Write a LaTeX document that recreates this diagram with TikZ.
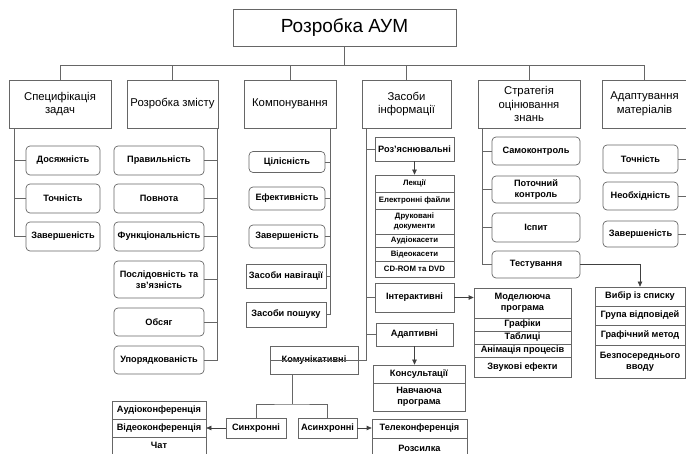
\documentclass[tikz,border=0pt]{standalone}
\usepackage{fontspec}
\setmainfont{Liberation Sans}
\usetikzlibrary{arrows.meta}
\tikzset{
  ln/.style={draw=black!60, line width=0.7pt},
  arr/.style={-{Triangle[length=5pt,width=4.5pt]}, draw=black!75},
  topbox/.style={ln, inner sep=0pt, font=\fontsize{19}{22}\selectfont},
  catbox/.style={ln, inner sep=0pt, align=center, minimum height=48pt,
    font=\fontsize{11.3}{13.8}\selectfont},
  itembox/.style={ln, rounded corners=4pt, inner sep=0pt, align=center,
    font=\bfseries\fontsize{9.2}{11.5}\selectfont},
  sqbox/.style={itembox, sharp corners},
  rowbox/.style={ln, inner sep=0pt, align=center,
    font=\bfseries\fontsize{9.2}{11}\selectfont},
  smallrow/.style={rowbox, font=\bfseries\fontsize{7.8}{9.5}\selectfont}
}

\begin{document}
\begin{tikzpicture}[x=1pt,y=-1pt]
\useasboundingbox (0,0) rectangle (686,454);

% root and first level
\node[topbox, minimum width=223pt, minimum height=37pt] (aum) at (344.5,27.5) {Розробка АУМ};
\coordinate (bus) at (344.5,65);
\foreach \nm/\xc/\w/\txt in {spec/60/102/{Специфікація\\задач},
    zmist/172.5/91/{Розробка змісту}, komp/290/92/{Компонування},
    zasob/406.5/89/{Засоби\\інформації}, strat/529/102/{Стратегія\\оцінювання\\знань},
    adapt/644.5/85/{Адаптування\\матеріалів}} {
  \node[catbox, minimum width=\w pt] (\nm) at (\xc,104) {\txt};
  \draw[ln] (aum.south) -- (bus) -| (\nm.north);
}

% specification of tasks
\coordinate (specS) at ([xshift=6pt]spec.south west);
\foreach \nm/\yc/\txt in {dosyazh/160.5/Досяжність, tochn/198.5/Точність,
    zavS/236.5/Завершеність} {
  \node[itembox, minimum width=74pt, minimum height=29pt] (\nm) at (63,\yc) {\txt};
  \draw[ln] (specS) |- (\nm.west);
}

% content
\coordinate (zmistS) at ([xshift=-1pt]zmist.south east);
\foreach \nm/\yc/\h/\txt in {prav/160.5/29/Правильність, povn/198.5/29/Повнота,
    funk/236.5/29/Функціональність, posl/279.5/37/{Послідовність та\\зв’язність},
    obsyag/322/28/Обсяг, upor/360/28/Упорядкованість} {
  \node[itembox, minimum width=90pt, minimum height=\h pt] (\nm) at (159,\yc) {\txt};
  \draw[ln] (zmistS) |- (\nm.east);
}

% layout
\coordinate (kompS) at ([xshift=-6pt]komp.south east);
\foreach \nm/\yc/\h/\txt in {tsil/162/21/Цілісність, efekt/198.5/23/Ефективність,
    zavK/236.5/23/Завершеність} {
  \node[itembox, minimum width=76pt, minimum height=\h pt] (\nm) at (287,\yc) {\txt};
  \draw[ln] (kompS) |- (\nm.east);
}
\node[sqbox, minimum width=80pt, minimum height=24pt] (navig) at (286,276) {Засоби навігації};
\node[sqbox, minimum width=80pt, minimum height=25pt] (poshuk) at (286,314.5) {Засоби пошуку};
\draw[ln] (kompS) |- (navig.east);
\draw[ln] (kompS) |- (poshuk.east);

% information means
\coordinate (zasobS) at ([xshift=5pt]zasob.south west);
\node[sqbox, minimum width=79pt, minimum height=24pt] (rozyasn) at (414.5,149) {Роз’яснювальні};
\node[sqbox, minimum width=79pt, minimum height=29pt] (inter) at (414.5,297.5) {Інтерактивні};
\node[sqbox, minimum width=77pt, minimum height=23pt] (adaptv) at (414.5,334.5) {Адаптивні};
\node[sqbox, minimum width=88pt, minimum height=28pt] (komun) at (314,360) {Комунікативні};
\foreach \nm in {rozyasn,inter,adaptv,komun}
  \draw[ln] (zasobS) |- (\nm.west |- \nm.east);
\draw[ln] (komun.east) -- (komun.east -| zasobS);

\foreach \nm/\yc/\h/\txt in {lek/183.5/17/Лекції, elf/200.5/17/{Електронні файли},
    druk/221.5/25/{Друковані\\документи}, audio/240.5/13/Аудіокасети,
    video/254/14/Відеокасети, cd/269/16/{CD-ROM та DVD}}
  \node[smallrow, minimum width=79pt, minimum height=\h pt] (\nm) at (414.5,\yc) {\txt};
\draw[ln, arr] (rozyasn.south) -- (lek.north);

\foreach \nm/\yc/\h/\txt in {model/303/30/{Моделююча\\програма}, grafik/324.5/13/Графіки,
    tabl/337.5/13/Таблиці, anim/350.5/13/{Анімація процесів}, zvuk/367/20/{Звукові ефекти}}
  \node[rowbox, minimum width=97pt, minimum height=\h pt] (\nm) at (522.5,\yc) {\txt};
\draw[ln, arr] (inter.east) -- (inter.east -| model.west);

\foreach \nm/\yc/\h/\txt in {kons/374/18/Консультації, navch/397/28/{Навчаюча\\програма}}
  \node[rowbox, minimum width=92pt, minimum height=\h pt] (\nm) at (419,\yc) {\txt};
\draw[ln, arr] (adaptv.south) -- (adaptv.south |- kons.north);

% communicative
\node[sqbox, minimum width=60pt, minimum height=20pt] (synch) at (256,428) {Синхронні};
\node[sqbox, minimum width=59pt, minimum height=20pt] (asynch) at (327.5,428) {Асинхронні};
\coordinate (kfork) at (292,404);
\draw[ln] (komun.south -| kfork) -- (kfork);
\draw[ln] (synch.north) |- (kfork) -| (asynch.north);

\foreach \nm/\yc/\h/\txt in {audk/410/18/Аудіоконференція, vidk/428/18/Відеоконференція,
    chat/445.5/17/Чат}
  \node[rowbox, minimum width=94pt, minimum height=\h pt] (\nm) at (159,\yc) {\txt};
\draw[ln, arr] (synch.west) -- (vidk.east);

\foreach \nm/\yc/\h/\txt in {telek/428.5/19/Телеконференція, rozs/448/20/Розсилка}
  \node[rowbox, minimum width=95pt, minimum height=\h pt] (\nm) at (419.5,\yc) {\txt};
\draw[ln, arr] (asynch.east) -- (asynch.east -| telek.west);

% assessment strategy
\coordinate (stratS) at ([xshift=5pt]strat.south west);
\foreach \nm/\yc/\h/\txt in {samo/151/28/Самоконтроль, potoch/189.5/27/{Поточний\\контроль},
    ispyt/227.5/29/Іспит, test/264.5/27/Тестування} {
  \node[itembox, minimum width=88pt, minimum height=\h pt] (\nm) at (536,\yc) {\txt};
  \draw[ln] (stratS) |- (\nm.west);
}
\foreach \nm/\yc/\h/\txt in {vybir/296.5/19/{Вибір із списку}, grupa/315.5/19/{Група відповідей},
    grafm/335/20/{Графічний метод}, bezp/361.5/33/{Безпосереднього\\вводу}}
  \node[rowbox, minimum width=90pt, minimum height=\h pt] (\nm) at (640,\yc) {\txt};
\draw[ln, arr] (test.east) -| (vybir.north);

% adaptation of materials
\foreach \nm/\yc/\h/\txt in {tA/159/28/Точність, nA/196/28/Необхідність, zA/234/26/Завершеність} {
  \node[itembox, minimum width=75pt, minimum height=\h pt] (\nm) at (640.5,\yc) {\txt};
  \draw[ln] (adapt.south east) |- (\nm.east);
}
\end{tikzpicture}
\end{document}
